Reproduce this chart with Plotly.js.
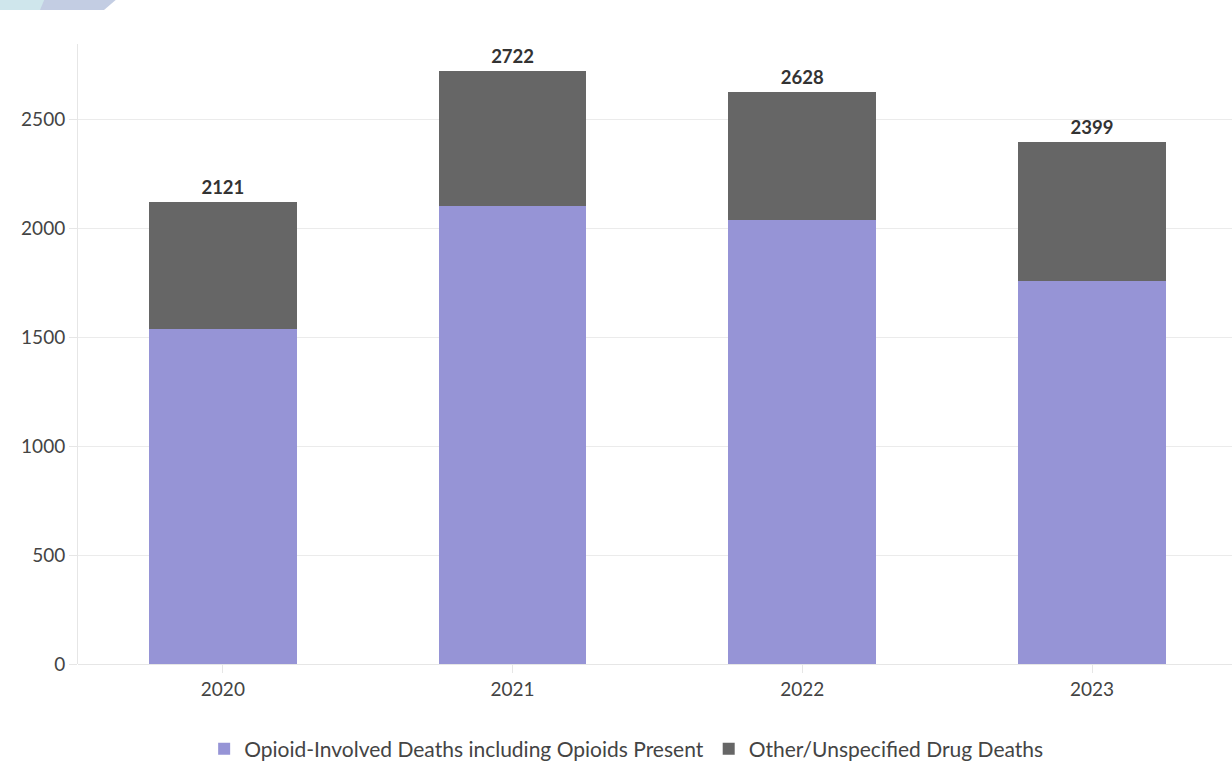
<!DOCTYPE html>
<html>
<head>
<meta charset="utf-8">
<script src="https://cdn.plot.ly/plotly-3.0.1.min.js"></script>
<style>
html,body{margin:0;padding:0;background:#fff;}
#chart{width:1232px;height:761px;}
</style>
</head>
<body>
<div id="chart"></div>
<script>
const years = ["2020", "2021", "2022", "2023"];
const opioidDeaths = [1539, 2105, 2040, 1760];
const otherDeaths = [582, 617, 588, 639];
const totals = [2121, 2722, 2628, 2399];
const seriesNames = ["Opioid-Involved Deaths including Opioids Present", "Other/Unspecified Drug Deaths"];
const yTicks = [0, 500, 1000, 1500, 2000, 2500];

const FONT = "Lato, 'Source Sans Pro', sans-serif";

const traces = [
  {type: "bar", name: seriesNames[0], x: years, y: opioidDeaths,
   marker: {color: "#9694d6"}, hoverinfo: "x+y"},
  {type: "bar", name: seriesNames[1], x: years, y: otherDeaths,
   marker: {color: "#666666"}, hoverinfo: "x+y"},
  {type: "scatter", mode: "markers+text", x: years, y: totals,
   text: totals.map(t => "<b>" + t + "</b>"),
   marker: {size: 4, color: "rgba(0,0,0,0)"},
   textposition: "top center", cliponaxis: false, showlegend: false,
   textfont: {family: FONT, size: 18.5, color: "#333333"}, hoverinfo: "skip"}
];

function px(x) { return (x - 78) / 1154; }
function py(y) { return (664 - y) / 620; }

const shapes = [
  {type: "path", xref: "paper", yref: "paper",
   path: `M ${px(0)} ${py(-2)} L ${px(118)} ${py(-2)} L ${px(104)} ${py(10)} L ${px(0)} ${py(10)} Z`,
   fillcolor: "#c3cde3", line: {width: 0}, layer: "above"},
  {type: "path", xref: "paper", yref: "paper",
   path: `M ${px(0)} ${py(-2)} L ${px(45)} ${py(-2)} L ${px(40)} ${py(10)} L ${px(0)} ${py(10)} Z`,
   fillcolor: "#cfe6ec", line: {width: 0}, layer: "above"}
];

const layout = {
  width: 1232, height: 761,
  margin: {l: 78, r: 0, t: 44, b: 97, autoexpand: false},
  paper_bgcolor: "#ffffff", plot_bgcolor: "#ffffff",
  barmode: "stack",
  bargap: 0.49,
  font: {family: FONT, size: 19, color: "#444444"},
  showlegend: true,
  legend: {orientation: "h", x: 0.475, xanchor: "center", y: -0.104, yanchor: "top",
           font: {family: FONT, size: 21, color: "#444444"}, traceorder: "normal",
           itemwidth: 30},
  xaxis: {type: "category", range: [-0.5, 3.483], showgrid: false,
          showline: false, zeroline: false,
          ticks: "outside", ticklen: 8, tickcolor: "#e6e6e6",
          tickfont: {family: FONT, size: 19, color: "#444444"}},
  yaxis: {range: [0, 2848], tickvals: yTicks, showgrid: true, gridcolor: "#ebebeb",
          showline: true, linecolor: "#e6e6e6", linewidth: 1,
          zeroline: true, zerolinecolor: "#e6e6e6",
          ticks: "outside", ticklen: 8, tickcolor: "#e6e6e6",
          tickfont: {family: FONT, size: 19, color: "#444444"}},
  shapes: shapes
};

Plotly.newPlot("chart", traces, layout, {displayModeBar: false, responsive: false});
</script>
</body>
</html>
